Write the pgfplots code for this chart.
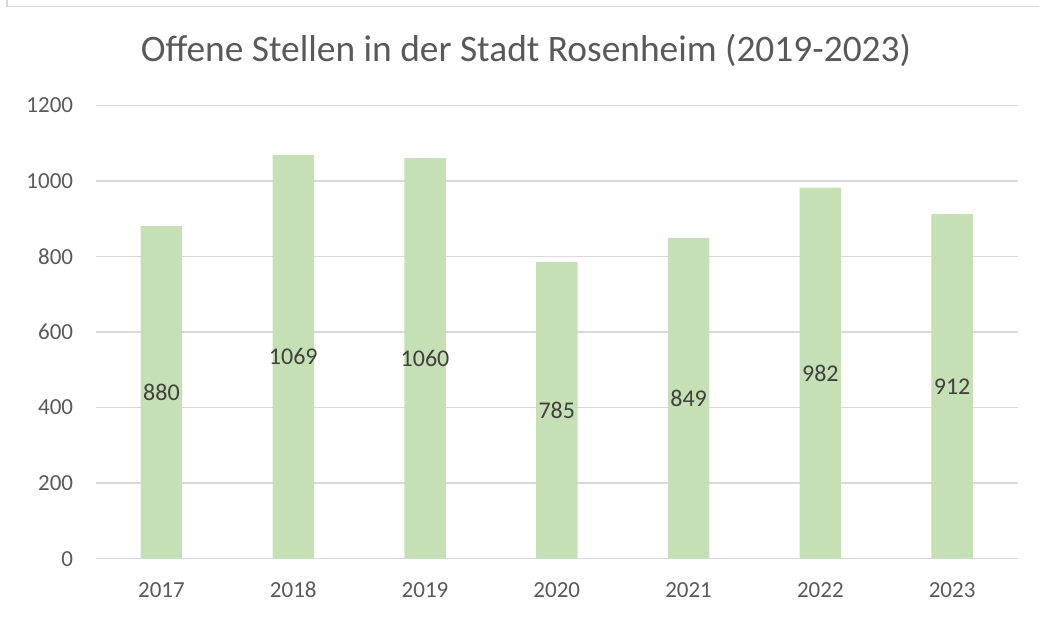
\documentclass[border=0pt]{standalone}
\usepackage{fontspec}
\setmainfont{Carlito}
\usepackage{pgfplots}
\pgfplotsset{compat=1.18}
\definecolor{barc}{HTML}{C5E0B4}
\definecolor{gridc}{HTML}{D9D9D9}
\definecolor{txt}{HTML}{595959}
\definecolor{lbl}{HTML}{404040}
\begin{document}
\begin{tikzpicture}[x=1bp,y=1bp]
\path[use as bounding box] (0,0) rectangle (1039,619);
\draw[gridc, line width=1.3bp] (7,619) -- (7,612.5) -- (1039,612.5);
\node[txt, font=\fontsize{37.4bp}{40bp}\selectfont] at (526,568.5) {Offene Stellen in der Stadt Rosenheim (2019-2023)};
\begin{axis}[
  at={(95.6bp,60.3bp)}, anchor=south west,
  scale only axis, width=922.4bp, height=453.4bp,
  xmin=-0.5, xmax=6.5, ymin=0, ymax=1200,
  xtick={0,...,6}, xticklabels={2017,2018,2019,2020,2021,2022,2023},
  ytick={0,200,...,1200},
  axis line style={draw=none},
  tick style={draw=none},
  ymajorgrids, grid style={gridc, line width=1.3bp},
  tick label style={txt, font=\fontsize{23bp}{25bp}\selectfont},
  /pgf/number format/assume math mode=true,
  /pgf/number format/1000 sep={},
  yticklabel style={xshift=-19bp},
  xticklabel style={anchor=base, yshift=-39bp},
  clip=false,
]
\draw[gridc, line width=1.3bp] (axis cs:-0.5,0) -- (axis cs:6.5,0);
\addplot[ybar, bar width=41.5bp, fill=barc, draw=none] coordinates {
(0,880) (1,1069) (2,1060) (3,785) (4,849) (5,982) (6,912)};
\addplot[only marks, mark=none, point meta=explicit,
  nodes near coords,
  every node near coord/.append style={lbl, anchor=center, font=\fontsize{24bp}{26bp}\selectfont, /pgf/number format/assume math mode=true, /pgf/number format/1000 sep={}}]
  table[x=x, y expr=\thisrow{y}/2, meta=y] {
x y
0 880
1 1069
2 1060
3 785
4 849
5 982
6 912
};
\end{axis}
\end{tikzpicture}
\end{document}
